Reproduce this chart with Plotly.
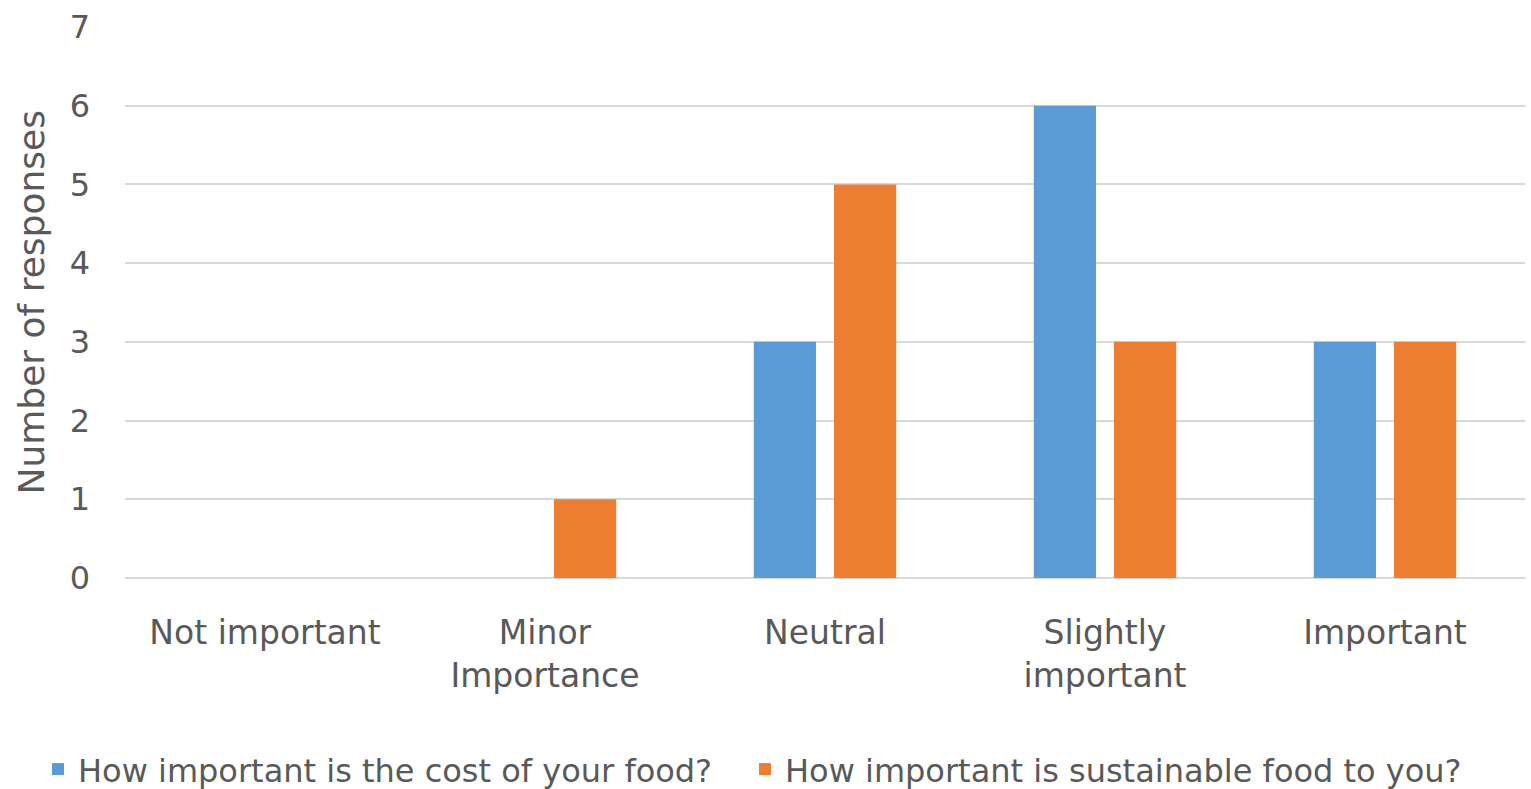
import plotly.graph_objects as go

categories = ["Not important", "Minor<br>Importance", "Neutral", "Slightly<br>important", "Important"]
cost_values = [0, 0, 3, 6, 3]
sustainable_values = [0, 1, 5, 3, 3]
series_names = ["How important is the cost of your food?", "How important is sustainable food to you?"]
y_ticks = [0, 1, 2, 3, 4, 5, 6, 7]
y_title = "Number of responses"

FONT = "DejaVu Sans"
TEXT = "#595959"

fig = go.Figure()
fig.add_trace(go.Bar(x=categories, y=cost_values, name=series_names[0], legend="legend",
                     marker=dict(color="#5B9BD5", line=dict(width=0))))
fig.add_trace(go.Bar(x=categories, y=sustainable_values, name=series_names[1], legend="legend2",
                     marker=dict(color="#ED7D31", line=dict(width=0))))

# vertical axis title placed as a rotated annotation left of the tick labels
fig.add_annotation(text=y_title, textangle=-90, xref="paper", yref="paper",
                   x=0, y=0.5, xanchor="center", yanchor="middle", xshift=-94,
                   showarrow=False, font=dict(size=36, color=TEXT, family=FONT))

legend_common = dict(orientation="h", xref="container", yref="container",
                     xanchor="left", y=0.025, yanchor="middle",
                     font=dict(size=32, color=TEXT), bgcolor="rgba(0,0,0,0)")

fig.update_layout(
    width=1531, height=789,
    margin=dict(l=125, r=6, t=27, b=211),
    paper_bgcolor="white", plot_bgcolor="white",
    barmode="group", bargap=0.427, bargroupgap=0.225,
    font=dict(family=FONT, color=TEXT, size=33),
    showlegend=True,
    legend=dict(x=38 / 1531, **legend_common),
    legend2=dict(x=745 / 1531, **legend_common),
    xaxis=dict(showgrid=False, showline=False, ticks="", ticklabelstandoff=32,
               tickfont=dict(size=33, color=TEXT)),
    yaxis=dict(range=[0, 7], tickvals=y_ticks, showgrid=True, gridcolor="#D9D9D9",
               gridwidth=2, zeroline=True, zerolinecolor="#D9D9D9", zerolinewidth=2,
               showline=False, ticks="", ticklabelstandoff=34,
               tickfont=dict(size=32, color=TEXT)),
)

fig.write_html("out.html")
